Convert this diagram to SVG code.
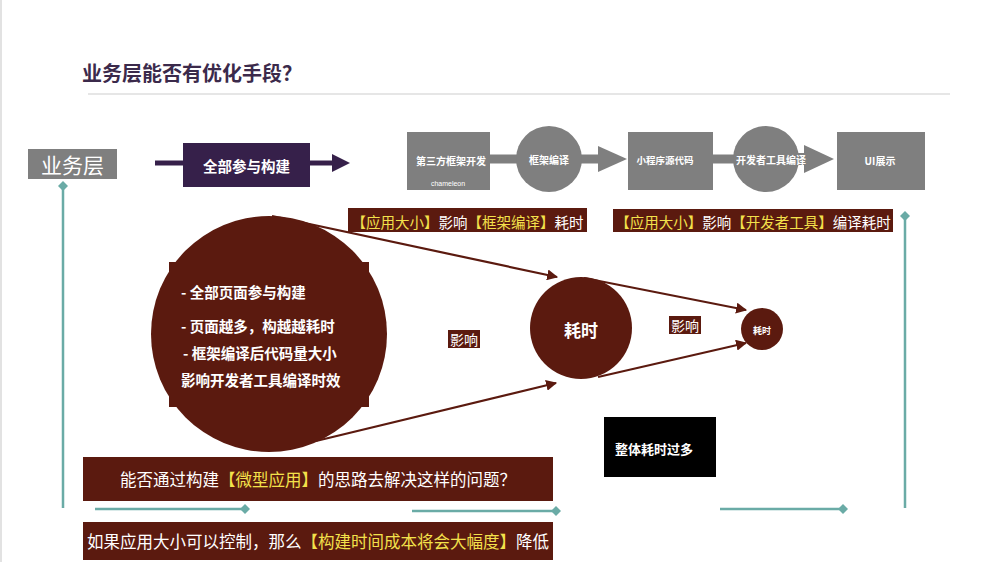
<svg xmlns="http://www.w3.org/2000/svg" width="1000" height="562" viewBox="0 0 1000 562">
<defs>
<style>
.cjk{font-family:"Noto Sans CJK SC","Noto Sans",sans-serif;}
.b{font-weight:bold;}
.w{fill:#ffffff;}
.y{fill:#f3e14b;}
.gray{fill:#7f7f7f;}
.brown{fill:#5b1a0f;}
.teal{stroke:#6aaba6;stroke-width:2.5;fill:none;}
.bl{stroke:#5b1a0f;stroke-width:2.2;fill:none;marker-end:url(#bh);}
.ga{stroke:#7f7f7f;stroke-width:9;fill:none;}
</style>
<marker id="bh" viewBox="0 0 10 10" refX="9" refY="5" markerWidth="5" markerHeight="5" orient="auto" markerUnits="strokeWidth">
<path d="M0,0 L10,5 L0,10 z" fill="#5b1a0f"/>
</marker>
<marker id="td" viewBox="0 0 10 10" refX="5" refY="5" markerWidth="4" markerHeight="4" orient="auto" markerUnits="strokeWidth">
<path d="M5,0 L10,5 L5,10 L0,5 z" fill="#6aaba6"/>
</marker>
</defs>
<rect x="0" y="0" width="1000" height="562" fill="#ffffff"/>
<line x1="1" y1="0" x2="1" y2="562" stroke="#e2e2e2" stroke-width="2"/>

<g id="title">
<text x="82" y="81" class="cjk b" font-size="20" fill="#3b2a4b">业务层能否有优化手段？</text>
<line x1="88" y1="94" x2="950" y2="94" stroke="#e6e6e6" stroke-width="2"/>
</g>

<g id="connectors">
<line class="teal" x1="63" y1="508" x2="63" y2="186" marker-end="url(#td)"/>
<line class="teal" x1="905" y1="508" x2="905" y2="216" marker-end="url(#td)"/>
<line class="teal" x1="95" y1="509" x2="245" y2="509" marker-end="url(#td)"/>
<line class="teal" x1="412" y1="511" x2="556" y2="511" marker-end="url(#td)"/>
<line class="teal" x1="720" y1="509" x2="843" y2="509" marker-end="url(#td)"/>
<line x1="155" y1="163" x2="185" y2="163" stroke="#36204a" stroke-width="5"/>
<line x1="308" y1="163" x2="336" y2="163" stroke="#36204a" stroke-width="5"/>
<path d="M332,154 L350,163 L332,172 z" fill="#36204a"/>
<line class="ga" x1="489" y1="159" x2="520" y2="159"/>
<line class="ga" x1="578" y1="159" x2="602" y2="159"/>
<path d="M598,146 L627,159 L598,172 z" fill="#7f7f7f"/>
<line class="ga" x1="712" y1="159" x2="738" y2="159"/>
<line x1="794" y1="159" x2="810" y2="159" stroke="#7f7f7f" stroke-width="12"/>
<path d="M804,145 L834,159 L804,173 z" fill="#7f7f7f"/>
<line class="bl" x1="272" y1="216" x2="557" y2="277"/>
<line class="bl" x1="316" y1="441" x2="556" y2="383"/>
<line class="bl" x1="584" y1="278" x2="746" y2="310"/>
<line class="bl" x1="598" y1="377" x2="746" y2="343"/>
</g>

<g id="n-yewuceng">
<rect x="28" y="149" width="89" height="30" class="gray"/>
<text x="72.5" y="164" class="cjk w" font-size="21" text-anchor="middle" dominant-baseline="central">业务层</text>
</g>

<g id="n-quanbu">
<rect x="183" y="143" width="127" height="44" fill="#36204a"/>
<text x="246.5" y="165" class="cjk b w" font-size="14.5" text-anchor="middle" dominant-baseline="central">全部参与构建</text>
</g>

<g id="n-third">
<rect x="407" y="132" width="83" height="58" class="gray"/>
<text x="451" y="160" class="cjk b w" font-size="10" text-anchor="middle" dominant-baseline="central">第三方框架开发</text>
<text x="448" y="183" font-family="Liberation Sans, sans-serif" font-size="7" class="w" text-anchor="middle" dominant-baseline="central">chameleon</text>
</g>

<g id="n-kuangjia">
<circle cx="549" cy="159" r="33" class="gray"/>
<text x="549" y="159" class="cjk b w" font-size="10" text-anchor="middle" dominant-baseline="central">框架编译</text>
</g>

<g id="n-source">
<rect x="628" y="132" width="85" height="58" class="gray"/>
<text x="665" y="160" class="cjk b w" font-size="9.5" text-anchor="middle" dominant-baseline="central">小程序源代码</text>
</g>

<g id="n-devtool">
<circle cx="766" cy="159" r="33" class="gray"/>
<text x="771" y="159" class="cjk b w" font-size="10" text-anchor="middle" dominant-baseline="central">开发者工具编译</text>
</g>

<g id="n-ui">
<rect x="837" y="132" width="88" height="58" class="gray"/>
<text x="880" y="160" class="cjk b w" font-size="10" text-anchor="middle" dominant-baseline="central">UI展示</text>
</g>

<g id="n-label1">
<rect x="348" y="208" width="239" height="24" class="brown"/>
<text x="467.5" y="220.5" class="cjk" font-size="14.5" text-anchor="middle" dominant-baseline="central"><tspan class="y">【应用大小】</tspan><tspan class="w">影响</tspan><tspan class="y">【框架编译】</tspan><tspan class="w">耗时</tspan></text>
</g>

<g id="n-label2">
<rect x="613" y="209" width="280" height="23" class="brown"/>
<text x="753" y="221" class="cjk" font-size="14.5" text-anchor="middle" dominant-baseline="central"><tspan class="y">【应用大小】</tspan><tspan class="w">影响</tspan><tspan class="y">【开发者工具】</tspan><tspan class="w">编译耗时</tspan></text>
</g>

<g id="n-bigcircle">
<circle cx="269" cy="334" r="118" class="brown"/>
<rect x="169" y="262" width="200" height="145" class="brown"/>
<text x="181" y="291" class="cjk b w" font-size="14.5" dominant-baseline="central">- 全部页面参与构建</text>
<text x="181" y="325" class="cjk b w" font-size="14.5" dominant-baseline="central">- 页面越多，构越越耗时</text>
<text x="183" y="352" class="cjk b w" font-size="14.5" dominant-baseline="central">- 框架编译后代码量大小</text>
<text x="181" y="379" class="cjk b w" font-size="14.5" dominant-baseline="central">影响开发者工具编译时效</text>
</g>

<g id="n-yingxiang1">
<rect x="448" y="330" width="32" height="18" class="brown"/>
<text x="464" y="339" class="cjk w" font-size="14" text-anchor="middle" dominant-baseline="central">影响</text>
</g>

<g id="n-haoshi1">
<circle cx="581" cy="328" r="51" class="brown"/>
<text x="581" y="329" class="cjk b w" font-size="17" text-anchor="middle" dominant-baseline="central">耗时</text>
</g>

<g id="n-yingxiang2">
<rect x="669" y="316" width="32" height="18" class="brown"/>
<text x="685" y="325" class="cjk w" font-size="14" text-anchor="middle" dominant-baseline="central">影响</text>
</g>

<g id="n-haoshi2">
<circle cx="762" cy="329" r="21" class="brown"/>
<text x="762" y="330" class="cjk b w" font-size="9" text-anchor="middle" dominant-baseline="central">耗时</text>
</g>

<g id="n-overall">
<rect x="604" y="417" width="112" height="60" fill="#000000"/>
<text x="654" y="448" class="cjk b w" font-size="13" text-anchor="middle" dominant-baseline="central">整体耗时过多</text>
</g>

<g id="n-question">
<rect x="83" y="457" width="470" height="44" class="brown"/>
<text x="318" y="479" class="cjk" font-size="16.5" text-anchor="middle" dominant-baseline="central"><tspan class="w">能否通过构建</tspan><tspan class="y">【微型应用】</tspan><tspan class="w">的思路去解决这样的问题？</tspan></text>
</g>

<g id="n-answer">
<rect x="83" y="522" width="470" height="38" class="brown"/>
<text x="318" y="541" class="cjk" font-size="16.5" text-anchor="middle" dominant-baseline="central"><tspan class="w">如果应用大小可以控制，那么</tspan><tspan class="y">【构建时间成本将会大幅度】</tspan><tspan class="w">降低</tspan></text>
</g>
</svg>
